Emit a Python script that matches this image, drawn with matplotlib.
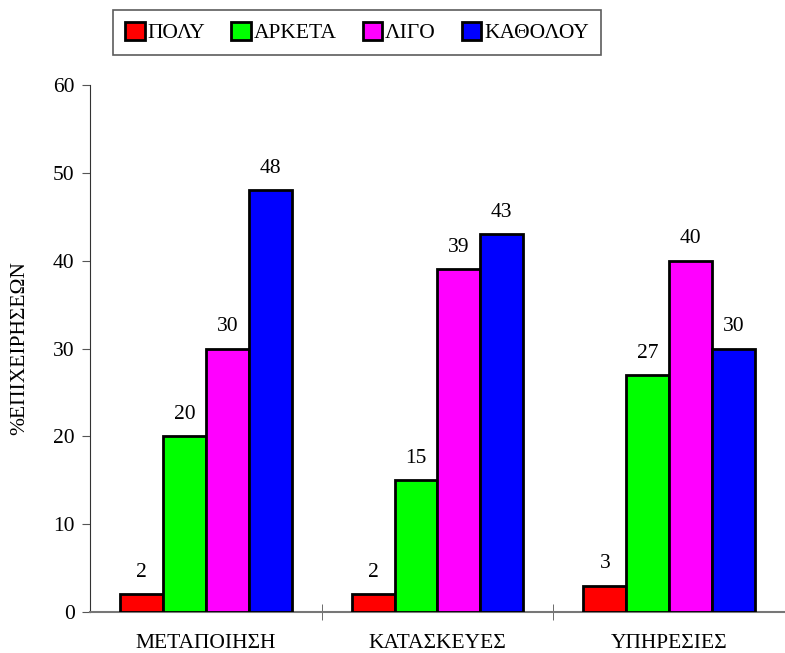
import matplotlib
matplotlib.use("Agg")
import matplotlib.pyplot as plt
import numpy as np

categories = ['ΜΕΤΑΠΟΙΗΣΗ', 'ΚΑΤΑΣΚΕΥΕΣ', 'ΥΠΗΡΕΣΙΕΣ']
series = ['ΠΟΛΥ', 'ΑΡΚΕΤΑ', 'ΛΙΓΟ', 'ΚΑΘΟΛΟΥ']
values = {
    'ΠΟΛΥ': [2, 2, 3],
    'ΑΡΚΕΤΑ': [20, 15, 27],
    'ΛΙΓΟ': [30, 39, 40],
    'ΚΑΘΟΛΟΥ': [48, 43, 30],
}
colors = ['#ff0000', '#00ff00', '#ff00ff', '#0000ff']

plt.rcParams['font.family'] = ['Liberation Serif', 'DejaVu Serif']
plt.rcParams['legend.handleheight'] = 0.9
fs = 15.5

fig = plt.figure(figsize=(7.85, 6.53), dpi=100)
ax = fig.add_axes([0.1146, 0.0628, 0.8854, 0.807])

x = np.arange(len(categories))
w = 0.185
for i, s in enumerate(series):
    pos = x + (i - 1.5) * w
    bars = ax.bar(pos, values[s], w, color=colors[i], edgecolor='black', linewidth=2, label=s, zorder=3)
    for b, v in zip(bars, values[s]):
        ax.text(b.get_x() + b.get_width() / 2, v + 1.4, str(v), ha='center', va='bottom', fontsize=fs)

ax.set_xlim(-0.5, 2.5)
ax.set_ylim(0, 60)
ax.set_yticks(range(0, 61, 10))
ax.tick_params(axis='y', labelsize=fs, direction='out', length=6, color='#555555', pad=5)
ax.set_xticks(x)
ax.set_xticklabels(categories, fontsize=fs)
ax.tick_params(axis='x', length=0, pad=16)
ax.set_xticks([0.5, 1.5], minor=True)
ax.tick_params(axis='x', which='minor', direction='inout', length=12, color='#555555')
for sp in ['top', 'right']:
    ax.spines[sp].set_visible(False)
ax.spines['left'].set_color('#333333')
ax.spines['bottom'].set_color('#777777')
ax.spines['bottom'].set_linewidth(1.5)
ax.set_ylabel('%ΕΠΙΧΕΙΡΗΣΕΩΝ', fontsize=fs, labelpad=17)

leg = fig.legend(loc='center', bbox_to_anchor=(0.455, 0.950), ncol=4, fontsize=fs,
                 frameon=True, fancybox=False, edgecolor='#333333',
                 handlelength=0.9, handletextpad=0.15, columnspacing=1.2,
                 borderpad=0.55)
leg.get_frame().set_linewidth(1.2)

fig.savefig('out.png', dpi=100)
